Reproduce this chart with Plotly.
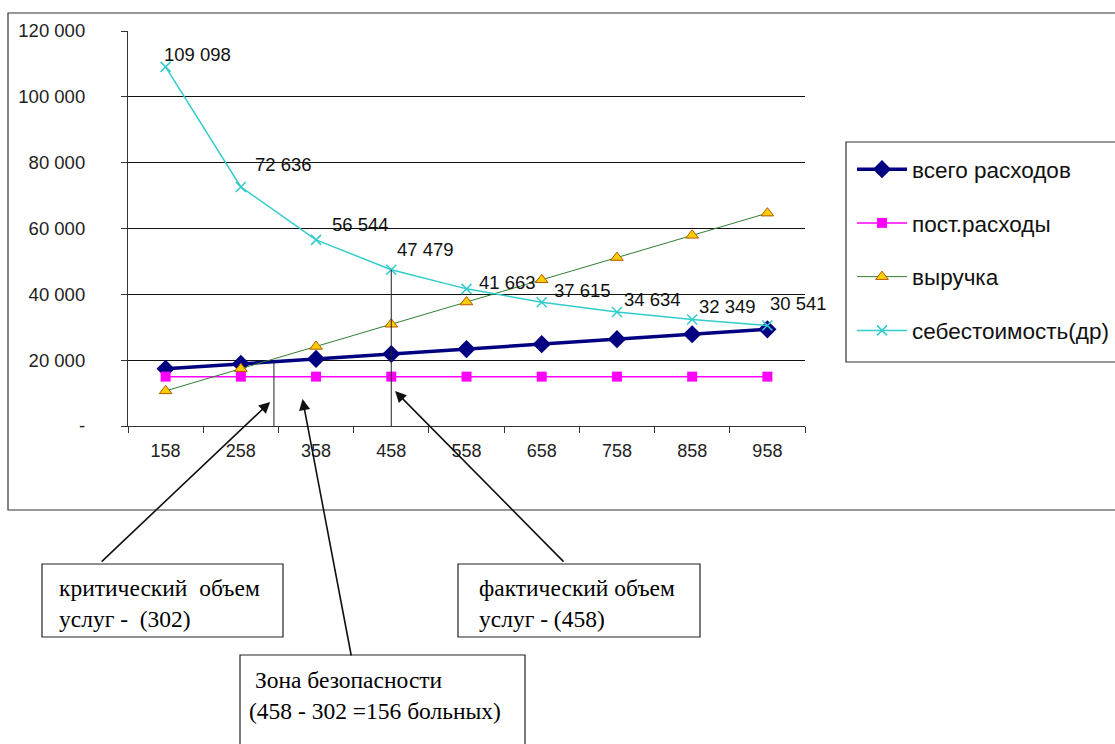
import numpy as np
import plotly.graph_objects as go

# Volume of services (patients) on the category axis
volumes = [158, 258, 358, 458, 558, 658, 758, 858, 958]

# Series values
total_costs = [17370, 18870, 20370, 21870, 23370, 24870, 26370, 27870, 29370]
fixed_costs = [15000, 15000, 15000, 15000, 15000, 15000, 15000, 15000, 15000]
revenue = [10665, 17415, 24165, 30915, 37665, 44415, 51165, 57915, 64665]
unit_cost = [109098, 72636, 56544, 47479, 41663, 37615, 34634, 32349, 30541]

series_names = ["всего расходов", "пост.расходы", "выручка", "себестоимость(др)"]

y_tick_values = [0, 20000, 40000, 60000, 80000, 100000, 120000]
y_tick_labels = ["-", "20 000", "40 000", "60 000", "80 000", "100 000", "120 000"]

critical_volume = 302
actual_volume = 458

# Pixel offsets of the unit-cost value labels (dx, dy)
label_offsets = [(-4, 12), (12, 22), (14, 15), (4, 20), (10, 6),
                 (10, 12), (5, 13), (5, 13), (1, 22)]

W, H = 1115, 744
ML, MR, MT, MB = 128, 310, 31, 318
PW, PH = W - ML - MR, H - MT - MB


def px(x):
    return (x - ML) / PW


def py(y):
    return (H - MB - y) / PH


SANS = "Arial, Liberation Sans, sans-serif"
SERIF = "Times New Roman, Liberation Serif, serif"

fig = go.Figure()

fig.add_trace(go.Scatter(
    x=volumes, y=total_costs, name=series_names[0], mode="lines+markers",
    line=dict(color="#000080", width=3.5),
    marker=dict(symbol="diamond", size=14, color="#000080"),
    legendgroup="a"))
fig.add_trace(go.Scatter(
    x=volumes, y=fixed_costs, name=series_names[1], mode="lines+markers",
    line=dict(color="#FF00FF", width=1.5),
    marker=dict(symbol="square", size=10, color="#FF00FF"),
    legendgroup="b"))
fig.add_trace(go.Scatter(
    x=volumes, y=revenue, name=series_names[2], mode="lines+markers",
    line=dict(color="#2F7F2F", width=1),
    marker=dict(symbol="triangle-up", size=11, color="#FFCC00",
                line=dict(color="#B35900", width=1)),
    legendgroup="c"))
fig.add_trace(go.Scatter(
    x=volumes, y=unit_cost, name=series_names[3], mode="lines+markers",
    line=dict(color="#33CCCC", width=1.5),
    marker=dict(symbol="x-thin-open", size=10, color="#33CCCC",
                line=dict(color="#33CCCC", width=1.5)),
    legendgroup="d"))

annotations = []
for v, val, (dx, dy) in zip(volumes, unit_cost, label_offsets):
    annotations.append(dict(
        x=v, y=val, xref="x", yref="y", text=f"{val:,}".replace(",", " "),
        showarrow=False, xanchor="left", yanchor="middle",
        xshift=dx, yshift=dy, font=dict(family=SANS, size=18.5, color="#111")))

# Vertical markers for the critical and the actual volume
crit_top = float(np.interp(critical_volume, volumes, total_costs))
act_top = float(np.interp(actual_volume, volumes, unit_cost))
shapes = [
    dict(type="line", xref="x", yref="y", x0=critical_volume, x1=critical_volume,
         y0=0, y1=crit_top, line=dict(color="#222", width=1)),
    dict(type="line", xref="x", yref="y", x0=actual_volume, x1=actual_volume,
         y0=0, y1=act_top, line=dict(color="#222", width=1)),
    # outer chart frame
    dict(type="rect", xref="paper", yref="paper", x0=px(8), x1=px(1125),
         y0=py(510), y1=py(13), line=dict(color="#333", width=1.2),
         layer="below"),
    # legend frame
    dict(type="rect", xref="paper", yref="paper", x0=px(846), x1=px(1125),
         y0=py(362), y1=py(142), line=dict(color="#333", width=1.2)),
]

# Callout boxes: frame + two-line text
nb = "\u00a0"
box_font = dict(family=SERIF, size=23.5, color="#000")
callouts = [
    # (left, top, right, bottom, text left, text centre y, text)
    (42, 564, 283, 637, 57, 603,
     f"критический{nb}{nb}объем<br>услуг -{nb}{nb}({critical_volume})"),
    (458, 564, 700, 637, 477, 603,
     f"фактический объем<br>услуг - ({actual_volume})"),
    (240, 655, 525, 760, 247, 695,
     f"{nb}Зона безопасности<br>({actual_volume} - {critical_volume} ="
     f"{actual_volume - critical_volume}{nb}больных)"),
]
for left, top, right, bottom, tx, ty, txt in callouts:
    shapes.append(dict(type="rect", xref="paper", yref="paper",
                       x0=px(left), x1=px(right), y0=py(bottom), y1=py(top),
                       line=dict(color="#222", width=1.2), fillcolor="white"))
    annotations.append(dict(xref="paper", yref="paper", x=px(tx), y=py(ty),
                            xanchor="left", yanchor="middle", align="left",
                            showarrow=False, text=txt, font=box_font))

arrow_style = dict(showarrow=True, arrowhead=2, arrowsize=1.4, arrowwidth=1.6,
                   arrowcolor="#111", text="", axref="pixel", ayref="pixel")
annotations += [
    dict(x=critical_volume - 5, y=7300, xref="x", yref="y", ax=-170, ay=161,
         **arrow_style),
    dict(x=340, y=8200, xref="x", yref="y", ax=49, ay=258, **arrow_style),
    dict(x=actual_volume + 5, y=10600, xref="x", yref="y", ax=170, ay=172,
         **arrow_style),
]

boundaries = [v - 50 for v in volumes] + [volumes[-1] + 50]

fig.update_layout(
    width=W, height=H,
    margin=dict(l=ML, r=MR, t=MT, b=MB, autoexpand=False),
    paper_bgcolor="white", plot_bgcolor="white",
    font=dict(family=SANS, size=18, color="#222"),
    showlegend=True,
    legend=dict(x=px(852), y=py(148), xanchor="left", yanchor="top",
                bgcolor="rgba(0,0,0,0)", borderwidth=0, tracegroupgap=21.5,
                itemwidth=50, font=dict(family=SANS, size=22.5, color="#111")),
    xaxis=dict(range=[volumes[0] - 50, volumes[-1] + 50], tickvals=volumes,
               ticktext=[str(v) for v in volumes], ticks="", showgrid=False,
               showline=True, linecolor="#333", linewidth=1.2, zeroline=False,
               ticklabelstandoff=8, tickfont=dict(family=SANS, size=18, color="#222")),
    xaxis2=dict(overlaying="x", matches="x", anchor="y", side="bottom",
                tickvals=boundaries, ticks="outside", ticklen=6, tickcolor="#333",
                showticklabels=False, showgrid=False, showline=False, zeroline=False),
    yaxis=dict(range=[0, 120000], tickvals=y_tick_values, ticktext=y_tick_labels,
               ticks="outside", ticklen=6, tickcolor="#333", showgrid=True,
               gridcolor="#111", gridwidth=1, showline=True, linecolor="#333",
               linewidth=1.2, zeroline=False, ticklabelstandoff=32,
               tickfont=dict(family=SANS, size=18.5, color="#222")),
    shapes=shapes,
    annotations=annotations,
)

# invisible trace to activate the tick-only axis
fig.add_trace(go.Scatter(x=[volumes[0]], y=[0], xaxis="x2", mode="markers",
                         marker=dict(opacity=0), showlegend=False, hoverinfo="skip"))

fig.write_html("out.html")
